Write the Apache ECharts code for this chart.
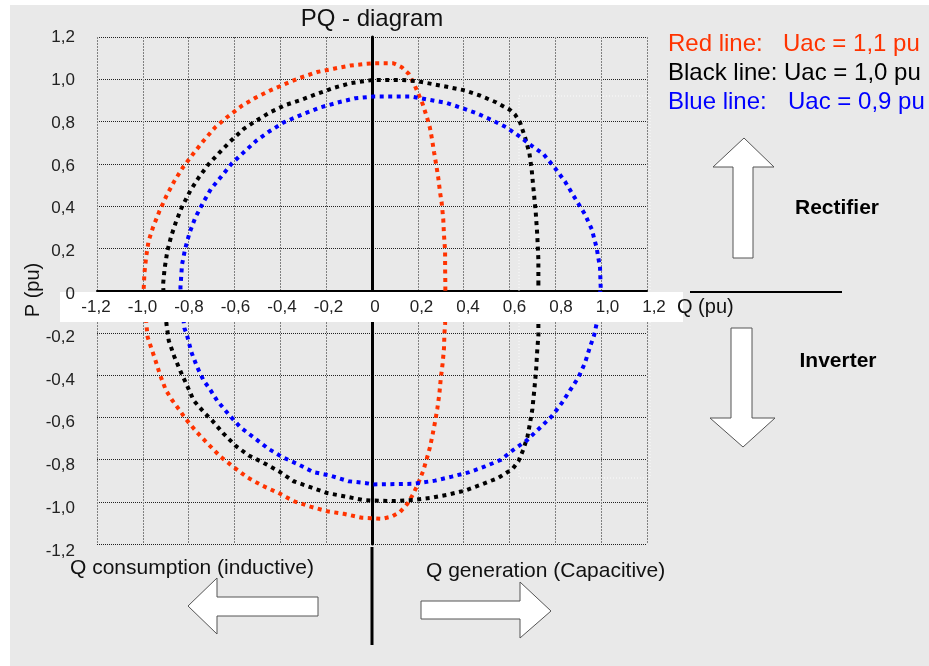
<!DOCTYPE html>
<html>
<head>
<meta charset="utf-8">
<script src="https://cdn.jsdelivr.net/npm/echarts@6/dist/echarts.min.js"></script>
<style>html,body{margin:0;padding:0;background:#fff}#c{width:929px;height:666px}</style>
</head>
<body>
<div id="c"></div>
<script>
// Tick labels
const qTickLabels = ['-1,2','-1,0','-0,8','-0,6','-0,4','-0,2','0','0,2','0,4','0,6','0,8','1,0','1,2'];
const pTickLabels = ['-1,2','-1,0','-0,8','-0,6','-0,4','-0,2','0','0,2','0,4','0,6','0,8','1,0','1,2'];

// Red line: Uac = 1,1 pu  [Q, P]
const redCurve = [
 [0.320,0.000],[0.320,0.032],[0.319,0.108],[0.319,0.187],[0.314,0.266],[0.311,0.337],[0.304,0.416],[0.297,0.464],
 [0.289,0.535],[0.282,0.583],[0.271,0.654],[0.260,0.728],[0.253,0.769],[0.242,0.812],[0.221,0.883],[0.195,0.950],
 [0.180,0.986],[0.160,1.026],[0.130,1.057],[0.093,1.076],[0.013,1.076],[-0.025,1.073],[-0.095,1.065],[-0.167,1.050],
 [-0.240,1.034],[-0.313,1.007],[-0.378,0.978],[-0.444,0.947],[-0.509,0.912],[-0.567,0.875],[-0.633,0.820],[-0.684,0.773],
 [-0.735,0.709],[-0.781,0.646],[-0.825,0.583],[-0.862,0.519],[-0.897,0.448],[-0.927,0.377],[-0.956,0.298],[-0.975,0.234],
 [-0.985,0.163],[-0.993,0.084],[-0.996,0.013],[-0.985,-0.155],[-0.979,-0.221],[-0.967,-0.260],[-0.945,-0.331],[-0.924,-0.402],
 [-0.900,-0.470],[-0.875,-0.515],[-0.851,-0.550],[-0.810,-0.612],[-0.764,-0.671],[-0.713,-0.729],[-0.662,-0.786],[-0.604,-0.836],
 [-0.545,-0.884],[-0.480,-0.923],[-0.407,-0.959],[-0.342,-0.997],[-0.269,-1.023],[-0.196,-1.045],[-0.124,-1.057],[-0.044,-1.076],
 [-0.007,-1.078],[0.042,-1.081],[0.087,-1.070],[0.122,-1.049],[0.154,-1.010],[0.180,-0.963],[0.202,-0.912],[0.224,-0.852],
 [0.241,-0.789],[0.253,-0.742],[0.265,-0.679],[0.275,-0.623],[0.285,-0.560],[0.294,-0.489],[0.300,-0.418],[0.308,-0.347],
 [0.314,-0.276],[0.316,-0.205],[0.319,-0.158],[0.320,0.000]
];

// Black line: Uac = 1,0 pu  [Q, P]
const blackCurve = [
 [0.726,0.028],[0.726,0.147],[0.721,0.266],[0.714,0.377],[0.704,0.488],[0.697,0.570],[0.687,0.649],[0.668,0.725],
 [0.646,0.796],[0.624,0.833],[0.602,0.855],[0.541,0.891],[0.471,0.923],[0.406,0.947],[0.337,0.962],[0.260,0.978],
 [0.195,0.991],[0.122,0.997],[0.006,0.997],[-0.095,0.981],[-0.167,0.959],[-0.240,0.931],[-0.310,0.902],[-0.378,0.878],
 [-0.444,0.844],[-0.505,0.804],[-0.560,0.765],[-0.618,0.706],[-0.669,0.649],[-0.713,0.598],[-0.756,0.535],[-0.793,0.472],
 [-0.829,0.396],[-0.855,0.326],[-0.876,0.258],[-0.893,0.187],[-0.905,0.104],[-0.912,0.025],[-0.897,-0.158],[-0.887,-0.237],
 [-0.863,-0.312],[-0.836,-0.382],[-0.807,-0.450],[-0.778,-0.521],[-0.727,-0.584],[-0.698,-0.615],[-0.650,-0.675],[-0.596,-0.734],
 [-0.538,-0.781],[-0.480,-0.812],[-0.407,-0.855],[-0.342,-0.903],[-0.269,-0.931],[-0.196,-0.959],[-0.116,-0.975],[-0.044,-0.991],
 [-0.007,-0.994],[0.093,-0.997],[0.180,-0.991],[0.260,-0.981],[0.333,-0.966],[0.406,-0.947],[0.479,-0.918],[0.551,-0.887],
 [0.614,-0.844],[0.639,-0.808],[0.660,-0.754],[0.678,-0.694],[0.689,-0.631],[0.700,-0.560],[0.708,-0.473],[0.716,-0.379],
 [0.721,-0.284],[0.726,-0.213],[0.726,-0.158],[0.726,0.028]
];

// Blue line: Uac = 0,9 pu  [Q, P]
const blueCurve = [
 [0.998,0.013],[0.995,0.108],[0.980,0.203],[0.959,0.290],[0.929,0.361],[0.893,0.424],[0.842,0.516],[0.799,0.579],
 [0.748,0.646],[0.697,0.685],[0.646,0.728],[0.585,0.773],[0.522,0.807],[0.457,0.839],[0.392,0.864],[0.326,0.888],
 [0.253,0.902],[0.173,0.918],[0.006,0.918],[-0.073,0.910],[-0.145,0.891],[-0.225,0.867],[-0.298,0.836],[-0.385,0.796],
 [-0.447,0.754],[-0.505,0.709],[-0.560,0.654],[-0.611,0.602],[-0.655,0.543],[-0.703,0.480],[-0.737,0.416],[-0.771,0.345],
 [-0.796,0.274],[-0.815,0.199],[-0.829,0.123],[-0.836,0.013],[-0.819,-0.177],[-0.807,-0.213],[-0.788,-0.292],[-0.764,-0.360],
 [-0.735,-0.426],[-0.708,-0.466],[-0.676,-0.521],[-0.625,-0.587],[-0.575,-0.647],[-0.509,-0.702],[-0.451,-0.750],[-0.385,-0.792],
 [-0.320,-0.824],[-0.255,-0.860],[-0.182,-0.876],[-0.102,-0.903],[-0.025,-0.912],[0.006,-0.918],[0.180,-0.915],[0.275,-0.900],
 [0.348,-0.881],[0.425,-0.860],[0.493,-0.833],[0.562,-0.802],[0.617,-0.754],[0.675,-0.710],[0.733,-0.650],[0.784,-0.596],
 [0.828,-0.533],[0.864,-0.473],[0.900,-0.413],[0.929,-0.344],[0.951,-0.268],[0.969,-0.213],[0.980,-0.158],[0.998,0.013]
];

const FONT = "'Liberation Sans', Arial, sans-serif";
const chart = echarts.init(document.getElementById('c'), null, {renderer: 'canvas'});
const tickFmt = labels => v => labels[Math.round((v + 1.2) / 0.2)] || '';

function curve(data, color) {
  return {
    type: 'line', data: data, xAxisIndex: 0, yAxisIndex: 0, symbol: 'none', z: 2,
    lineStyle: {color: color, width: 4, type: [4, 4.5], cap: 'butt'},
    silent: true
  };
}

function txt(text, x, y, size, color, opts) {
  opts = opts || {};
  return {
    type: 'text', x: x, y: y, z: 20, rotation: opts.rotation || 0,
    style: {text: text, fill: color, font: (opts.bold ? 'bold ' : '') + size + 'px ' + FONT,
      align: opts.align || 'left', verticalAlign: 'middle'}
  };
}
function poly(points) {
  return {type: 'polygon', z: 20, shape: {points: points}, style: {fill: '#fff', stroke: '#555', lineWidth: 1}};
}

chart.setOption({
  animation: false,
  backgroundColor: '#fff',
  grid: [
    {left: 97, top: 37, width: 550, height: 507},
    {left: 96, top: 290, width: 558, height: 1},
    {left: 97, top: 37.5, width: 550, height: 513.5}
  ],
  xAxis: [
    {gridIndex: 0, type: 'value', min: -1.2, max: 1.2, interval: 0.2,
     axisLine: {show: true, onZero: true, lineStyle: {color: '#000', width: 2}},
     axisTick: {show: false}, axisLabel: {show: false},
     splitLine: {show: true, lineStyle: {color: '#808080', width: 1, type: [2, 1]}}},
    {gridIndex: 1, type: 'value', min: -1.2, max: 1.2, interval: 0.2, position: 'bottom', z: 10,
     axisLine: {show: false}, axisTick: {show: false}, splitLine: {show: false},
     axisLabel: {show: true, margin: 8, color: '#222', fontSize: 17, fontFamily: FONT,
       formatter: tickFmt(qTickLabels), showMinLabel: true, showMaxLabel: true}},
    {gridIndex: 2, type: 'value', min: -1.2, max: 1.2, show: false}
  ],
  yAxis: [
    {gridIndex: 0, type: 'value', min: -1.2, max: 1.2, interval: 0.2,
     axisLine: {show: true, onZero: true, lineStyle: {color: '#000', width: 3}},
     axisTick: {show: false}, axisLabel: {show: false},
     splitLine: {show: true, lineStyle: {color: '#222', width: 1, type: [1, 1]}}},
    {gridIndex: 1, type: 'value', min: 0, max: 1, show: false},
    {gridIndex: 2, type: 'value', min: -1.2, max: 1.2, interval: 0.2, position: 'left', z: 10,
     axisLine: {show: false}, axisTick: {show: false}, splitLine: {show: false},
     axisLabel: {show: true, margin: 22, color: '#222', fontSize: 17, fontFamily: FONT,
       formatter: tickFmt(pTickLabels), showMinLabel: true, showMaxLabel: true}}
  ],
  series: [
    curve(redCurve, '#ff3300'),
    curve(blackCurve, '#000000'),
    curve(blueCurve, '#0000ff')
  ],
  graphic: [
    {type: 'rect', z: -10, silent: true, shape: {x: 10, y: 5, width: 919, height: 661}, style: {fill: '#e9e9e9'}},
    {type: 'rect', z: 1, silent: true, shape: {x: 519, y: 96, width: 131, height: 382},
     style: {fill: null, stroke: '#ffffff', lineWidth: 1, lineDash: [1, 2], opacity: 0.8}},
    {type: 'rect', z: 5, silent: true, shape: {x: 60, y: 292, width: 623, height: 30}, style: {fill: '#fff'}},
    {type: 'line', z: 5, shape: {x1: 372, y1: 547, x2: 372, y2: 645}, style: {stroke: '#000', lineWidth: 3}},
    {type: 'line', z: 5, shape: {x1: 690, y1: 292, x2: 842, y2: 292}, style: {stroke: '#000', lineWidth: 2}},
    poly([[744,138],[774,167],[753,167],[753,258],[733,258],[733,167],[713,167]]),
    poly([[731,328],[752,328],[752,418],[775,418],[743,447],[710,418],[731,418]]),
    poly([[188,606],[217,578],[217,597],[318,597],[318,616],[217,616],[217,634]]),
    poly([[421,601],[520,601],[520,582],[551,611],[520,638],[520,619],[421,619]]),
    txt('PQ - diagram', 372, 19, 24, '#111', {align: 'center'}),
    txt('Red line:', 668, 44, 24, '#ff3300'),
    txt('Uac = 1,1 pu', 783, 44, 24, '#ff3300'),
    txt('Black line:', 668, 73, 24, '#000'),
    txt('Uac = 1,0 pu', 784, 73, 24, '#000'),
    txt('Blue line:', 668, 102, 24, '#0000ff'),
    txt('Uac = 0,9 pu', 788, 102, 24, '#0000ff'),
    txt('Rectifier', 837, 208, 21, '#000', {align: 'center', bold: true}),
    txt('Inverter', 838, 361, 21, '#000', {align: 'center', bold: true}),
    txt('Q (pu)', 677, 307, 20, '#111'),
    txt('P (pu)', 33, 290, 20, '#111', {align: 'center', rotation: Math.PI / 2}),
    txt('Q consumption (inductive)', 70, 568, 21, '#111'),
    txt('Q generation (Capacitive)', 426, 571, 21, '#111')
  ]
});
</script>
</body>
</html>
